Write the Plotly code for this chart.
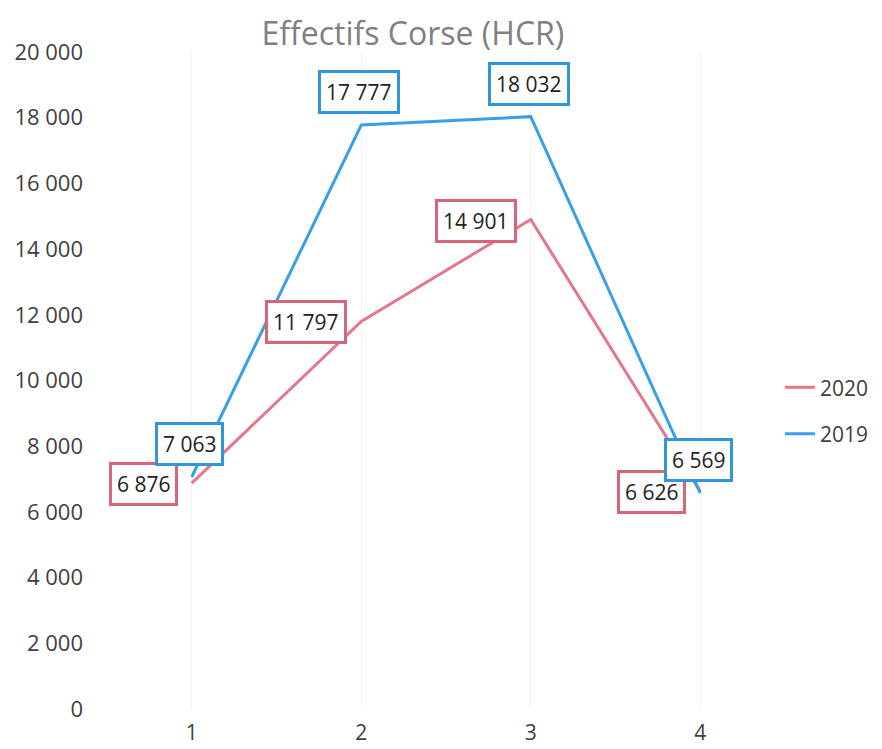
import plotly.graph_objects as go

categories = [1, 2, 3, 4]
values_2020 = [6876, 11797, 14901, 6626]
values_2019 = [7063, 17777, 18032, 6569]
labels_2020 = ["6 876", "11 797", "14 901", "6 626"]
labels_2019 = ["7 063", "17 777", "18 032", "6 569"]
y_ticks = [0, 2000, 4000, 6000, 8000, 10000, 12000, 14000, 16000, 18000, 20000]
y_tick_text = ["0", "2 000", "4 000", "6 000", "8 000", "10 000", "12 000", "14 000", "16 000", "18 000", "20 000"]

pink = "#E27889"
pink_border = "#D9647A"
blue = "#3A9FE4"
blue_border = "#2F95DD"
FONT = "Open Sans, Noto Sans, sans-serif"

fig = go.Figure()
fig.add_trace(go.Scatter(x=categories, y=values_2020, mode="lines", name="2020",
                         legendgroup="a", line=dict(color=pink, width=3)))
fig.add_trace(go.Scatter(x=categories, y=values_2019, mode="lines", name="2019",
                         legendgroup="b", line=dict(color=blue, width=3)))

for x, y, t in zip(categories, values_2020, labels_2020):
    fig.add_annotation(x=x, y=y, text=t, showarrow=False, xanchor="right", yanchor="middle",
                       xshift=-14, yshift=-1,
                       bgcolor="white", bordercolor=pink_border, borderwidth=3, borderpad=5,
                       font=dict(size=21, color="#222222", family=FONT))
for x, y, t in zip(categories, values_2019, labels_2019):
    fig.add_annotation(x=x, y=y, text=t, showarrow=False, xanchor="center", yanchor="bottom",
                       xshift=-2, yshift=11,
                       bgcolor="white", bordercolor=blue_border, borderwidth=3, borderpad=5,
                       font=dict(size=21, color="#222222", family=FONT))

fig.update_layout(
    width=882, height=749,
    paper_bgcolor="white", plot_bgcolor="white",
    font=dict(family=FONT, color="#404040"),
    title=dict(text="Effectifs Corse (HCR)", x=0.459, xanchor="center", y=0.966, yanchor="middle",
               font=dict(size=32, color="#808080", family=FONT)),
    margin=dict(l=99, r=105, t=44, b=48, autoexpand=False),
    xaxis=dict(tickmode="array", tickvals=categories, ticktext=[str(c) for c in categories],
               range=[0.5, 4.5], showgrid=True, gridcolor="#f3f3f3", zeroline=False,
               showline=False, tickfont=dict(size=21, color="#404040"), ticks="",
               ticklabelstandoff=9),
    yaxis=dict(tickmode="array", tickvals=y_ticks, ticktext=y_tick_text, range=[0, 20000],
               showgrid=False, zeroline=False, showline=False,
               tickfont=dict(size=22, color="#404040"), ticklabelstandoff=23),
    legend=dict(x=0.9926, xanchor="left", y=0.454, yanchor="middle",
                font=dict(size=21, color="#404040"), tracegroupgap=16),
    showlegend=True,
)

fig.write_html("out.html")
